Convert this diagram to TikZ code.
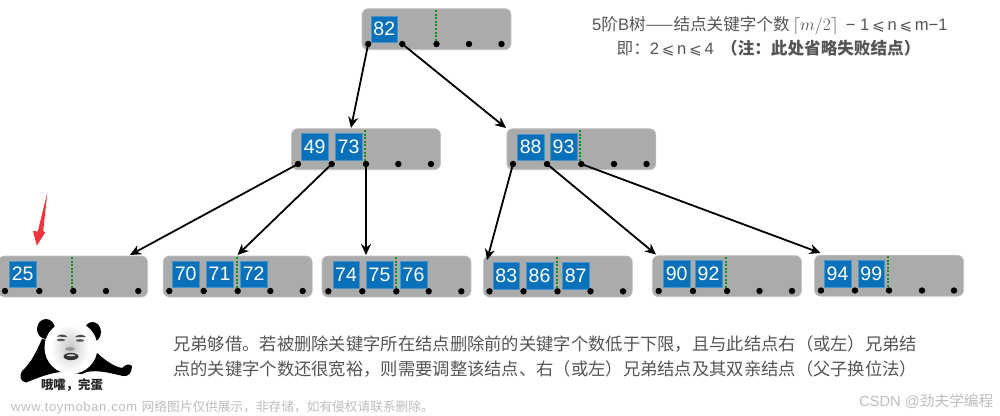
\documentclass[tikz,border=0pt]{standalone}
\usepackage{fontspec}
\setmainfont{Liberation Sans}
\newfontfamily\cjk{Noto Sans CJK SC}
\newfontfamily\symfam{DejaVu Sans}
\newfontfamily\wmlat[LetterSpace=5]{Liberation Sans}
\usetikzlibrary{arrows.meta}
\definecolor{boxgray}{RGB}{171,171,171}
\definecolor{keyblue}{RGB}{8,113,186}
\definecolor{ptrgreen}{RGB}{20,140,30}
\definecolor{txtgray}{RGB}{85,85,85}
\definecolor{markgray}{RGB}{190,190,190}
\definecolor{redarrow}{RGB}{240,50,58}
\tikzset{
  x=1pt,y=-1pt,
  blockbox/.style={fill=boxgray,draw=boxgray!70!white,line width=0.6pt,rounded corners=6pt,minimum width=149pt,minimum height=41pt,inner sep=0pt},
  keybox/.style={fill=keyblue,draw=keyblue!75!white,line width=0.5pt,minimum width=26.5pt,minimum height=26.5pt,inner sep=0pt,text=white,font=\fontsize{19.5}{19.5}\selectfont},
  ptrdot/.style={circle,fill=black,minimum size=6.4pt,inner sep=0pt},
  sepline/.style={draw=ptrgreen,line width=1.8pt,dash pattern=on 2pt off 1.6pt},
  link/.style={draw=black,line width=1.8pt,-{Stealth[length=11pt,width=10pt]}},
  bodytext/.style={anchor=west,inner sep=0pt,text=txtgray,font=\fontsize{17.3}{17.3}\selectfont\cjk},
  notetext/.style={anchor=base west,inner sep=0pt,text=txtgray,font=\fontsize{16.6}{16.6}\selectfont}
}
\newcommand{\ptrs}[7]{%
  \node[ptrdot] (#1a) at (#3,#2) {};
  \node[ptrdot] (#1b) at (#4,#2) {};
  \node[ptrdot] (#1c) at (#5,#2) {};
  \node[ptrdot] (#1d) at (#6,#2) {};
  \node[ptrdot] (#1e) at (#7,#2) {};
}
\newcommand{\keyat}[4]{\node[keybox] (#1) at (#2,#3) {#4};}
\newcommand{\slq}{{\symfam\fontsize{15}{15}\selectfont ⩽}}
\begin{document}
\begin{tikzpicture}
\useasboundingbox (0,0) rectangle (1000,415);
\fill[white] (0,0) rectangle (1000,415);

% blocks
\node[blockbox] (root) at (436.5,29.2) {};
\node[blockbox] (L) at (366,149.2) {};
\node[blockbox] (R) at (581.3,149.2) {};
\node[blockbox] (A) at (73,276.5) {};
\node[blockbox] (B) at (237.7,276.5) {};
\node[blockbox] (C) at (396.5,276.5) {};
\node[blockbox] (D) at (557.8,276.5) {};
\node[blockbox] (E) at (727,276.2) {};
\node[blockbox] (F) at (889,275.7) {};

% separators
\draw[sepline] (436,10) -- (436,42);
\draw[sepline] (365,130) -- (365,161);
\draw[sepline] (580.3,130) -- (580.3,161);
\draw[sepline] (72.3,257) -- (72.3,288);
\draw[sepline] (236.8,257) -- (236.8,288);
\draw[sepline] (396,257) -- (396,288);
\draw[sepline] (556.7,257) -- (556.7,288);
\draw[sepline] (725.8,257) -- (725.8,288);
\draw[sepline] (888.2,256) -- (888.2,287);

% keys
\keyat{k82}{384.3}{29}{82}
\keyat{k49}{314.7}{146.5}{49}
\keyat{k73}{348.5}{146.5}{73}
\keyat{k88}{530.7}{147}{88}
\keyat{k93}{563.5}{146.5}{93}
\keyat{k25}{22.7}{274}{25}
\keyat{k70}{185.7}{274}{70}
\keyat{k71}{219.5}{274}{71}
\keyat{k72}{253.7}{274}{72}
\keyat{k74}{346}{274.5}{74}
\keyat{k75}{379.5}{274.5}{75}
\keyat{k76}{413.5}{274.5}{76}
\keyat{k83}{506.3}{275.7}{83}
\keyat{k86}{539.5}{275.7}{86}
\keyat{k87}{575.7}{275.7}{87}
\keyat{k90}{676.7}{273.7}{90}
\keyat{k92}{708.5}{273.7}{92}
\keyat{k94}{837.5}{273.7}{94}
\keyat{k99}{871.3}{273.7}{99}

% pointer dots
\ptrs{r}{44}{368.2}{402.3}{436.5}{469}{501.5}
\ptrs{l}{164}{298}{331.7}{366}{398.3}{431}
\ptrs{q}{164}{513}{547}{581.3}{614}{646.5}
\ptrs{a}{291}{5}{39.3}{73.3}{106}{138.3}
\ptrs{b}{291}{169.3}{203.7}{237.7}{270.3}{302.7}
\ptrs{c}{291.3}{328.3}{362.3}{396.3}{428.7}{461.3}
\ptrs{d}{291.3}{489.5}{523.5}{557.5}{590.5}{623}
\ptrs{e}{291}{658.7}{693}{727}{759.5}{792}
\ptrs{f}{290.5}{821}{855}{889}{922}{954}

% arrow ends
\coordinate (tL) at (351,128);
\coordinate (tR) at (506,128);
\coordinate (tA) at (130,255);
\coordinate (tB) at (237.5,255);
\coordinate (tC) at (366,255);
\coordinate (tD) at (487,260);
\coordinate (tE) at (656,254.5);
\coordinate (tF) at (820.5,253);

\draw[link] (ra.center) -- (tL);
\draw[link] (rb.center) -- (tR);
\draw[link] (la.center) -- (tA);
\draw[link] (lb.center) -- (tB);
\draw[link] (lc.center) -- (tC);
\draw[link] (qa.center) -- (tD);
\draw[link] (qb.center) -- (tE);
\draw[link] (qc.center) -- (tF);

% red arrow
\fill[redarrow] (47.3,192.5) -- (43.2,231) -- (45.2,232.5) -- (36.8,245.5) -- (33,231) -- (37.8,231.5) -- cycle;

% heading texts
\node[notetext] (note1) at (592,30.3) {5{\cjk 阶}B{\cjk 树——结点关键字个数}\,$\lceil m/2\rceil$\, − 1\,\slq\,n\,\slq\,m−1};
\node[notetext] (note2) at (616.5,54) {{\cjk 即：}2\,\slq\,n\,\slq\,4\, {\cjk\bfseries （注：此处省略失败结点）}};

% body text
\node[bodytext] (body1) at (173,344) {兄弟够借。若被删除关键字所在结点删除前的关键字个数低于下限，且与此结点右（或左）兄弟结};
\node[bodytext] (body2) at (173,369) {点的关键字个数还很宽裕，则需要调整该结点、右（或左）兄弟结点及其双亲结点（父子换位法）};

% panda
\fill[black] (42,339) .. controls (37,350) and (32,362) .. (22,371) .. controls (19,376) and (20,381) .. (26,382.5)
  .. controls (38,378) and (46,374) .. (60,372) -- (82,374) .. controls (92,368) and (110,373) .. (123,376)
  .. controls (129,377) and (132,372) .. (132,366) .. controls (129,363) and (125,365) .. (122,368)
  .. controls (112,366) and (102,358) .. (93,349) -- cycle;
\fill[black] (46,329) ellipse[x radius=9,y radius=10];
\fill[black] (92.5,332) ellipse[x radius=8.5,y radius=10];
\fill[white] (71,347.5) ellipse[x radius=26.5,y radius=26.5];
\shade[inner color=black!22,outer color=white] (70,348) ellipse[x radius=19,y radius=24];
\fill[black!70] (57,336.5) .. controls (60,333.5) and (65,334) .. (67.5,337) .. controls (63,336.5) and (60,337) .. (57,336.5) -- cycle;
\fill[black!70] (75,337) .. controls (78,334) and (83,334) .. (86,337) .. controls (82,337) and (78,337) .. (75,337) -- cycle;
\fill[black!65] (61,340) ellipse[x radius=4.2,y radius=1.3];
\fill[black!65] (80,340.5) ellipse[x radius=4.2,y radius=1.3];
\fill[black!40] (70,349) ellipse[x radius=5,y radius=1.8];
\fill[black!80] (71,356.5) ellipse[x radius=7.5,y radius=3.6];
\fill[black!15] (71,355.3) ellipse[x radius=4.5,y radius=1];
\node[inner sep=0pt,text=black!85,font=\fontsize{12.4}{12.4}\selectfont\cjk\bfseries] (meme) at (72,385) {哦嚯，完蛋};

% page marks
\node[anchor=base west,inner sep=0pt,text=markgray,font=\fontsize{13}{13}\selectfont\wmlat] (mark1) at (11,411) {www.toymoban.com};
\node[anchor=base west,inner sep=0pt,text=markgray,font=\fontsize{12.7}{12.7}\selectfont\cjk] (mark2) at (141.5,411) {网络图片仅供展示，非存储，如有侵权请联系删除。};
\node[anchor=base west,inner sep=0pt,text=markgray,font=\fontsize{14.7}{14.7}\selectfont\cjk] (mark3) at (859,406) {{\fontspec{Liberation Sans}CSDN @}劲夫学编程};
\end{tikzpicture}
\end{document}
